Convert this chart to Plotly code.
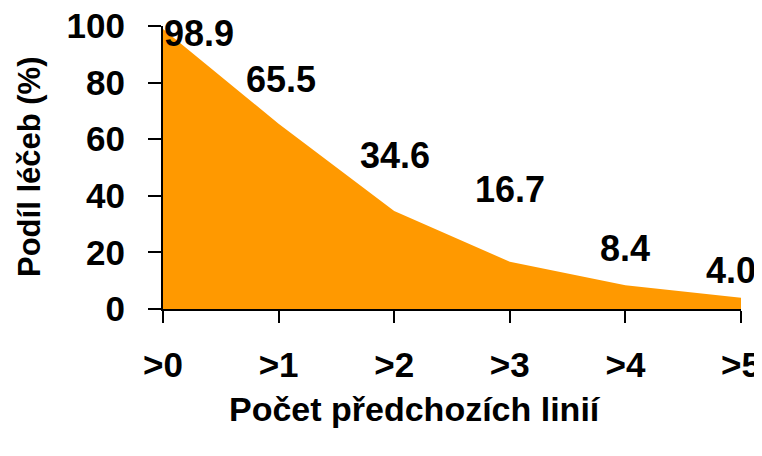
import plotly.graph_objects as go

# data
categories = [">0", ">1", ">2", ">3", ">4", ">5"]
share = [98.9, 65.5, 34.6, 16.7, 8.4, 4.0]
value_labels = ["98.9", "65.5", "34.6", "16.7", "8.4", "4.0"]
y_ticks = [0, 20, 40, 60, 80, 100]

# label placement (pixels, relative to the point)
label_dx = [36, 2, 1, 0, 0, -10]
label_dy = [-4, 44, 56, 72, 37, 27]

font_family = "Liberation Sans, Arial, sans-serif"
orange = "#FF9900"

fig = go.Figure()

fig.add_trace(go.Scatter(
	x=categories,
	y=share,
	mode="lines",
	fill="tozeroy",
	fillcolor=orange,
	line=dict(width=0, color=orange),
	hoverinfo="skip",
	showlegend=False,
))

for i, cat in enumerate(categories):
	fig.add_annotation(
		x=cat, y=share[i], xref="x", yref="y",
		text=f"<b>{value_labels[i]}</b>",
		showarrow=False,
		xshift=label_dx[i], yshift=label_dy[i],
		font=dict(family=font_family, size=36, color="black"),
	)

# axis titles as annotations, placed in paper units
fig.add_annotation(
	x=0.436, y=-0.355, xref="paper", yref="paper",
	xanchor="center", yanchor="middle",
	text="<b>Počet předchozích linií</b>", showarrow=False,
	font=dict(family=font_family, size=34, color="black"),
)
fig.add_annotation(
	x=-0.23, y=0.502, xref="paper", yref="paper",
	xanchor="center", yanchor="middle", textangle=-90,
	text="<b>Podíl léčeb (%)</b>", showarrow=False,
	font=dict(family=font_family, size=31, color="black"),
)

# the page body adds an 8px offset, so the figure is 8px smaller each way
fig.update_layout(
	width=754,
	height=448,
	margin=dict(l=155, r=21, t=18, b=147, autoexpand=False),
	plot_bgcolor="white",
	paper_bgcolor="white",
	showlegend=False,
)

fig.update_xaxes(
	type="category",
	range=[0, 5],
	automargin=False,
	showline=True, linecolor="black", linewidth=2,
	ticks="outside", ticklen=12, tickwidth=2, tickcolor="black",
	tickfont=dict(family=font_family, size=35, color="black", weight="bold"),
	ticklabelstandoff=12,
	ticklabeloverflow="allow",
	showgrid=False, zeroline=False,
)

fig.update_yaxes(
	range=[0, 100],
	tickvals=y_ticks,
	automargin=False,
	showline=True, linecolor="black", linewidth=2,
	ticks="outside", ticklen=13, tickwidth=2, tickcolor="black",
	tickfont=dict(family=font_family, size=35, color="black", weight="bold"),
	ticklabelstandoff=16,
	ticklabeloverflow="allow",
	showgrid=False, zeroline=False,
)

fig.write_html("out.html")
